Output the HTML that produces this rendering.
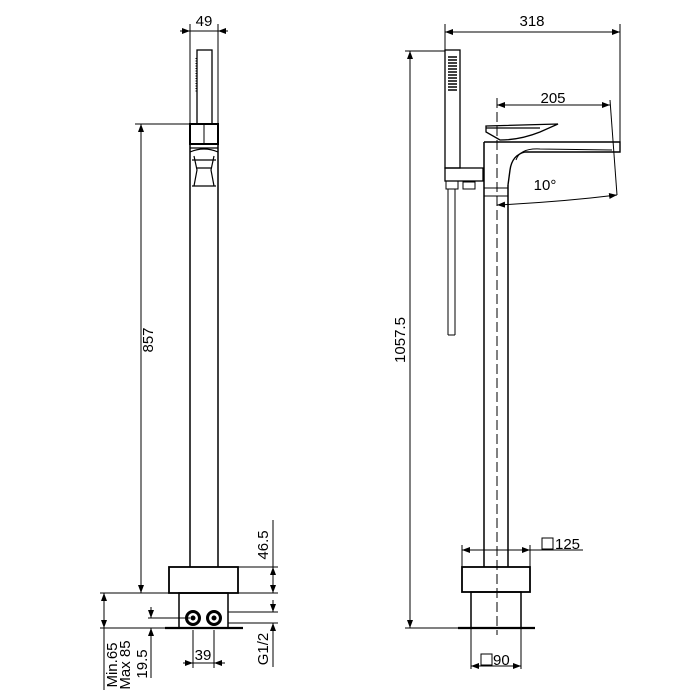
<!DOCTYPE html><html><head><style>body{margin:0;background:#fff}svg{display:block}text{font-family:"Liberation Sans",sans-serif;font-size:15px;fill:#000}</style></head><body>
<svg width="700" height="700" viewBox="0 0 700 700" xmlns="http://www.w3.org/2000/svg">
<defs><marker id="a" markerWidth="8" markerHeight="6" refX="8" refY="3" orient="auto-start-reverse" markerUnits="userSpaceOnUse"><path d="M0,0L8,3L0,6z" fill="#000"/></marker></defs>
<g stroke="#000" fill="none" stroke-width="1">
<line x1="190" y1="24" x2="190" y2="124"/><line x1="218" y1="24" x2="218" y2="124"/>
<line x1="180" y1="31" x2="190" y2="31" marker-end="url(#a)"/><line x1="228" y1="31" x2="218" y2="31" marker-end="url(#a)"/>
<line x1="190" y1="31" x2="218" y2="31"/>
<rect x="197" y="50" width="15" height="74" stroke-width="1.3"/>
<line x1="196" y1="58" x2="196" y2="92" stroke-dasharray="1 1.5"/>
<rect x="190" y="124" width="28" height="20" stroke-width="2"/>
<line x1="204" y1="124" x2="204" y2="144"/>
<path d="M190,148 L218,148 M190,152 Q204,146 218,152 M194,156 L197,170 L194,186 M214,156 L211,170 L214,186 M192,160 L216,160 M196,168 L212,168 M192,186 L216,186" stroke-width="1.2"/>
<line x1="190" y1="144" x2="190" y2="567" stroke-width="1.5"/><line x1="218" y1="144" x2="218" y2="567" stroke-width="1.5"/>
<rect x="169" y="567" width="69" height="26" stroke-width="1.8"/>
<rect x="179" y="593" width="49" height="35" stroke-width="1.5"/>
<line x1="165" y1="628" x2="243" y2="628" stroke-width="2.2"/>
<circle cx="193" cy="618" r="6.5" stroke-width="3"/><circle cx="214" cy="618" r="6.5" stroke-width="3"/>
<circle cx="193" cy="618" r="2" fill="#000"/><circle cx="214" cy="618" r="2" fill="#000"/>
<line x1="135" y1="124" x2="190" y2="124"/>
<line x1="141" y1="124" x2="141" y2="593" marker-start="url(#a)" marker-end="url(#a)"/>
<line x1="100" y1="593" x2="169" y2="593"/><line x1="100" y1="628" x2="165" y2="628"/>
<line x1="104" y1="593" x2="104" y2="628" marker-start="url(#a)" marker-end="url(#a)"/>
<line x1="104" y1="628" x2="104" y2="690"/>
<line x1="148" y1="618" x2="190" y2="618"/>
<line x1="151" y1="607" x2="151" y2="618" marker-end="url(#a)"/>
<line x1="151" y1="645" x2="151" y2="628" marker-end="url(#a)"/>
<line x1="151" y1="628" x2="151" y2="678"/>
<line x1="193" y1="630" x2="193" y2="668"/><line x1="214" y1="630" x2="214" y2="668"/>
<line x1="183" y1="663" x2="193" y2="663" marker-end="url(#a)"/><line x1="225" y1="663" x2="214" y2="663" marker-end="url(#a)"/><line x1="193" y1="663" x2="214" y2="663"/>
<line x1="238" y1="567" x2="278" y2="567"/><line x1="238" y1="593" x2="278" y2="593"/>
<line x1="273" y1="520" x2="273" y2="567"/>
<line x1="273" y1="567" x2="273" y2="593" marker-start="url(#a)" marker-end="url(#a)"/>
<line x1="228" y1="612" x2="278" y2="612"/><line x1="228" y1="623" x2="278" y2="623"/>
<line x1="273" y1="600" x2="273" y2="612" marker-end="url(#a)"/>
<line x1="273" y1="636" x2="273" y2="623" marker-end="url(#a)"/><line x1="273" y1="623" x2="273" y2="667"/>
<line x1="445" y1="24" x2="445" y2="50"/><line x1="620" y1="24" x2="620" y2="142"/>
<line x1="445" y1="32" x2="620" y2="32" marker-start="url(#a)" marker-end="url(#a)"/>
<line x1="405" y1="51" x2="445" y2="51"/>
<line x1="410" y1="51" x2="410" y2="628" marker-start="url(#a)" marker-end="url(#a)"/>
<line x1="405" y1="628" x2="458" y2="628"/>
<rect x="445" y="50" width="15" height="118" stroke-width="1.3"/>
<g stroke-width="1.5"><line x1="448" y1="57" x2="457" y2="57"/><line x1="448" y1="60" x2="457" y2="60"/><line x1="448" y1="63" x2="457" y2="63"/><line x1="448" y1="66" x2="457" y2="66"/><line x1="448" y1="69" x2="457" y2="69"/><line x1="448" y1="72" x2="457" y2="72"/><line x1="448" y1="75" x2="457" y2="75"/><line x1="448" y1="78" x2="457" y2="78"/><line x1="448" y1="81" x2="457" y2="81"/><line x1="448" y1="84" x2="457" y2="84"/><line x1="448" y1="87" x2="457" y2="87"/><line x1="448" y1="90" x2="457" y2="90"/></g>
<rect x="445" y="168" width="38" height="13" stroke-width="1.3"/>
<rect x="446" y="181" width="12" height="8"/><rect x="463" y="182" width="12" height="7"/>
<line x1="448" y1="189" x2="448" y2="335"/><line x1="455" y1="189" x2="455" y2="335"/><line x1="448" y1="335" x2="455" y2="335"/>
<line x1="484" y1="142" x2="484" y2="567" stroke-width="1.5"/><line x1="508" y1="185" x2="508" y2="567" stroke-width="1.5"/>
<line x1="484" y1="188" x2="508" y2="188"/><line x1="484" y1="196" x2="508" y2="196"/>
<path d="M486,126 L558,124 L540,132 Q520,140 500,140 L486,132 Z M486,128 L540,128" stroke-width="1.3"/>
<path d="M484,142 L620,142 L620,152 L525,152 Q512,155 510,170 L508,185" stroke-width="1.4"/>
<path d="M516,160 Q520,148 540,149 L612,150" />
<line x1="497" y1="98" x2="497" y2="635" stroke-dasharray="10 4"/>
<line x1="497" y1="105" x2="610" y2="105" marker-start="url(#a)" marker-end="url(#a)"/>
<line x1="610" y1="100" x2="617" y2="195"/>
<path d="M497,205 Q560,202 617,195" marker-start="url(#a)" marker-end="url(#a)"/>
<rect x="462" y="567" width="68" height="25" stroke-width="1.8"/>
<rect x="471" y="592" width="50" height="36" stroke-width="1.5"/>
<line x1="458" y1="628" x2="535" y2="628" stroke-width="2.2"/>
<line x1="462" y1="545" x2="462" y2="567"/><line x1="530" y1="545" x2="530" y2="567"/>
<line x1="462" y1="550" x2="583" y2="550"/>
<line x1="475" y1="550" x2="462" y2="550" marker-end="url(#a)"/><line x1="517" y1="550" x2="530" y2="550" marker-end="url(#a)"/>
<line x1="471" y1="628" x2="471" y2="669"/><line x1="521" y1="628" x2="521" y2="669"/>
<line x1="471" y1="666" x2="521" y2="666" marker-start="url(#a)" marker-end="url(#a)"/>
<rect x="542" y="538" width="11" height="11"/>
<rect x="481" y="654" width="11" height="11"/>
</g>
<text x="204" y="26" text-anchor="middle">49</text>
<text x="532" y="26" text-anchor="middle">318</text>
<text x="553" y="103" text-anchor="middle">205</text>
<text x="545" y="190" text-anchor="middle">10°</text>
<text x="555" y="549">125</text>
<text x="493" y="665">90</text>
<text x="203" y="660" text-anchor="middle">39</text>
<text transform="translate(153,340) rotate(-90)" text-anchor="middle">857</text>
<text transform="translate(405,340) rotate(-90)" text-anchor="middle">1057.5</text>
<text transform="translate(268,545) rotate(-90)" text-anchor="middle">46.5</text>
<text transform="translate(268,649) rotate(-90)" text-anchor="middle">G1/2</text>
<text transform="translate(147,664) rotate(-90)" text-anchor="middle">19.5</text>
<text transform="translate(117,665) rotate(-90)" text-anchor="middle">Min.65</text>
<text transform="translate(130,665) rotate(-90)" text-anchor="middle">Max 85</text>
</svg></body></html>
